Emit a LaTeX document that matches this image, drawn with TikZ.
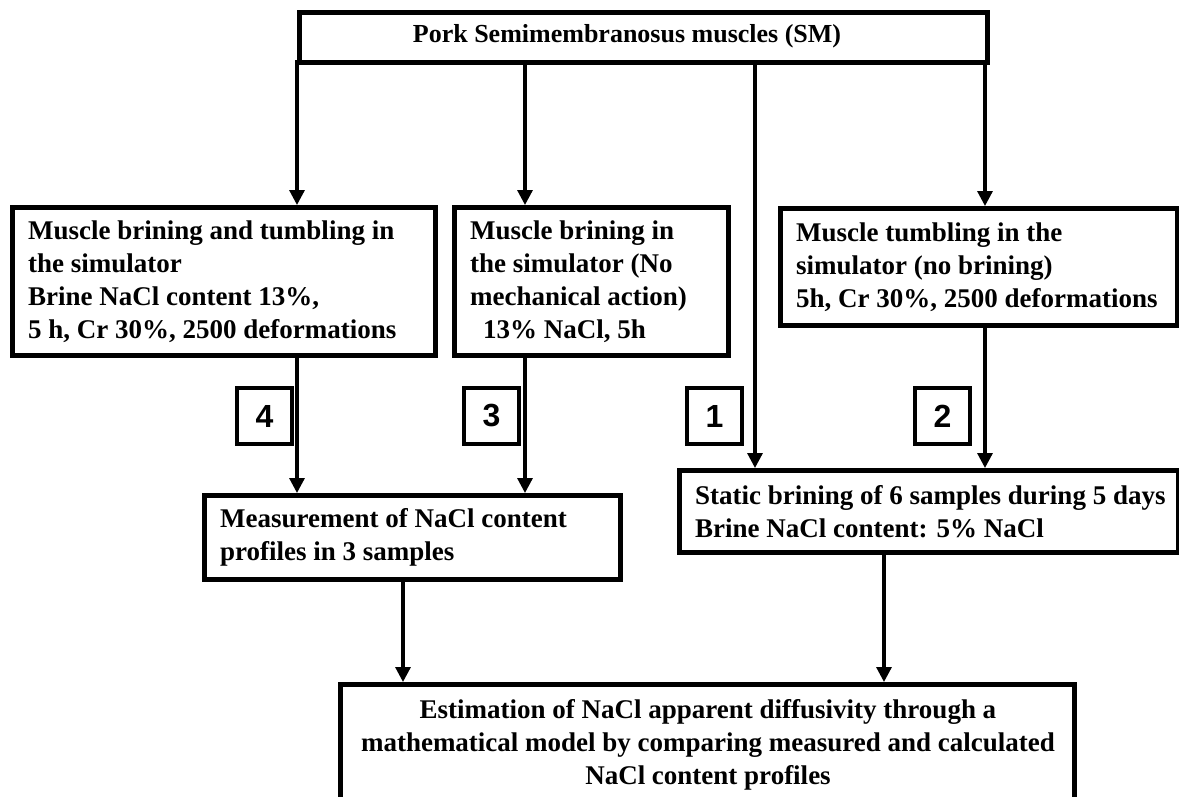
\documentclass[tikz,border=0pt]{standalone}
\usepackage{fontspec}
\setmainfont{Liberation Serif}
\newfontfamily\numfont{Liberation Sans}
\usetikzlibrary{arrows.meta,calc}
\begin{document}
\begin{tikzpicture}[x=1pt,y=-1pt,
  box/.style={draw,line width=4.5pt,inner sep=0pt,anchor=north west},
  txt/.style={inner sep=0pt,align=left,font=\fontsize{27}{33}\selectfont\bfseries},
  ctxt/.style={inner sep=0pt,align=center,font=\fontsize{27}{33}\selectfont\bfseries},
  numbox/.style={draw,line width=4pt,inner sep=0pt,anchor=north west,minimum width=55pt,minimum height=56pt,font=\fontsize{32}{32}\selectfont\numfont\bfseries},
  arr/.style={line width=3.2pt,-{Triangle[width=15pt,length=15pt]}}]
\useasboundingbox (0,0) rectangle (1179,796);
% boxes
\node[box,minimum width=688pt,minimum height=50pt] (top) at (297,10) {};
\node[ctxt,font=\fontsize{26}{33}\selectfont\bfseries] (toptxt) at (627,36) {Pork Semimembranosus muscles (SM)};
\node[box,minimum width=423pt,minimum height=148pt] (left) at (10,205) {};
\node[txt,anchor=west] (lefttxt) at ([xshift=18pt]left.west) {Muscle brining and tumbling in\\the simulator\\Brine NaCl content 13\%,\\5 h, Cr 30\%, 2500 deformations};
\node[box,minimum width=274pt,minimum height=148pt] (mid) at (452,205) {};
\node[txt,anchor=west] (midtxt) at ([xshift=18pt]mid.west) {Muscle brining in\\the simulator (No\\mechanical action)\\\hspace*{13pt}13\% NaCl, 5h};
\node[box,minimum width=397pt,minimum height=117pt] (right) at (778,206) {};
\node[txt,anchor=west] (righttxt) at ([xshift=18pt]right.west) {Muscle tumbling in the\\simulator (no brining)\\5h, Cr 30\%, 2500 deformations};
\node[box,minimum width=416pt,minimum height=84pt] (meas) at (202,493) {};
\node[txt,anchor=west] (meastxt) at ([xshift=18pt]meas.west) {Measurement of NaCl content\\profiles in 3 samples};
\node[box,minimum width=499pt,minimum height=82pt] (stat) at (677,468) {};
\node[txt,anchor=west] (stattxt) at ([xshift=18pt]stat.west) {Static brining of 6 samples during 5 days\\Brine NaCl content: 5\% NaCl};
\node[box,minimum width=734pt,minimum height=122pt] (est) at (338,682) {};
\node[ctxt] (esttxt) at (708,745) {Estimation of NaCl apparent diffusivity through a\\mathematical model by comparing measured and calculated\\NaCl content profiles};
% number boxes
\node[numbox] (n4) at (235,386) {4};
\node[numbox] (n3) at (462,386) {3};
\node[numbox] (n1) at (685,386) {1};
\node[numbox] (n2) at (913,386) {2};
% connectors
\coordinate (t1) at (297,60);
\coordinate (t2) at (525,60);
\coordinate (t3) at (755,60);
\coordinate (t4) at (985,60);
\draw[arr] (t1) -- (t1 |- left.north);
\draw[arr] (t2) -- (t2 |- mid.north);
\draw[arr] (t3) -- (t3 |- stat.north);
\draw[arr] (t4) -- (t4 |- right.north);
\draw[arr] (t1 |- left.south) -- (t1 |- meas.north);
\draw[arr] (t2 |- mid.south) -- (t2 |- meas.north);
\draw[arr] (t4 |- right.south) -- (t4 |- stat.north);
\coordinate (m1) at (403,0);
\coordinate (s1) at (884,0);
\draw[arr] (m1 |- meas.south) -- (m1 |- est.north);
\draw[arr] (s1 |- stat.south) -- (s1 |- est.north);
\end{tikzpicture}
\end{document}
